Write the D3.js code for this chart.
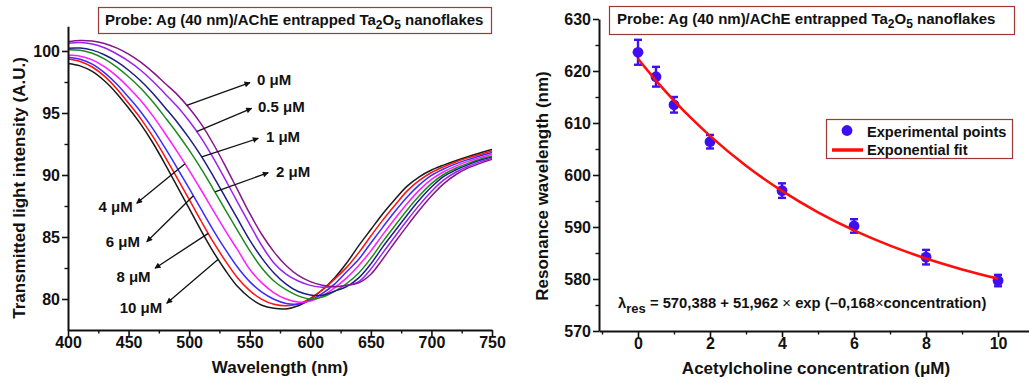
<!DOCTYPE html>
<html><head><meta charset="utf-8">
<script src="https://cdn.jsdelivr.net/npm/d3@7"></script>
<style>
body{margin:0;background:#fff}
text{font-family:"Liberation Sans",Arial,sans-serif;font-weight:bold;fill:#111}
</style>
</head><body>
<svg id="c" width="1029" height="383"></svg>
<script>
// ---------- data: left panel (transmission spectra) ----------
const wavelengths = [400,410,420,430,440,450,460,470,480,490,500,510,520,530,540,550,560,570,580,590,600,610,620,630,640,650,660,670,680,690,700,710,720,730,740,750];
const conc0   = [100.75,100.85,100.8,100.6,100.25,99.75,99.1,98.3,97.4,96.5,95.4,94.1,92.5,90.7,88.8,86.9,85.2,83.8,82.7,81.9,81.4,81.1,81.0,81.1,81.3,82.0,83.25,84.6,85.9,87.15,88.3,89.28,90.02,90.55,90.94,91.26];
const conc05  = [100.62,100.68,100.56,100.26,99.78,99.18,98.45,97.56,96.56,95.54,94.35,92.98,91.37,89.61,87.79,86.02,84.3,82.9,82.0,81.45,81.1,80.95,80.98,81.1,81.4,82.42,83.74,85.06,86.35,87.57,88.67,89.58,90.22,90.68,91.06,91.35];
const conc1   = [100.23,100.24,100.07,99.7,99.16,98.45,97.6,96.59,95.45,94.28,92.97,91.52,89.89,88.18,86.46,84.75,83.3,82.1,81.2,80.6,80.33,80.31,80.63,81.0,81.7,82.83,84.22,85.5,86.78,87.98,89.03,89.87,90.4,90.82,91.18,91.44];
const conc2   = [100.1,100.06,99.82,99.37,98.72,97.92,97.0,95.91,94.67,93.39,92.0,90.49,88.85,87.17,85.52,83.9,82.5,81.45,80.75,80.25,80.0,80.16,80.62,81.25,82.1,83.28,84.65,85.93,87.18,88.32,89.3,90.04,90.54,90.94,91.27,91.53];
const conc4   = [99.67,99.58,99.28,98.74,97.99,97.05,96.0,94.77,93.37,91.91,90.38,88.77,87.11,85.49,83.96,82.4,81.3,80.5,80.0,79.76,79.83,80.25,80.9,81.7,82.7,83.88,85.21,86.49,87.7,88.78,89.64,90.26,90.72,91.1,91.4,91.68];
const conc6   = [99.5,99.34,98.94,98.26,97.36,96.27,95.1,93.74,92.2,90.58,88.92,87.22,85.54,83.98,82.56,81.4,80.55,79.98,79.64,79.6,79.88,80.45,81.2,82.2,83.2,84.52,85.82,87.08,88.23,89.2,89.97,90.48,90.9,91.24,91.53,91.82];
const conc8   = [99.36,99.16,98.71,97.97,96.98,95.79,94.55,93.11,91.49,89.77,88.03,86.27,84.58,83.06,81.7,80.68,79.97,79.57,79.45,79.6,80.05,80.73,81.6,82.55,83.74,85.08,86.38,87.58,88.72,89.56,90.2,90.66,91.05,91.38,91.66,91.95];
const conc10  = [99.0,98.8,98.35,97.6,96.6,95.4,94.1,92.6,90.9,89.1,87.3,85.5,83.8,82.3,81.0,80.1,79.5,79.25,79.2,79.45,80.0,80.75,81.7,82.9,84.3,85.6,86.9,88.05,89.1,89.85,90.4,90.8,91.15,91.47,91.77,92.05];
const curveNames = ["0 μM","0.5 μM","1 μM","2 μM","4 μM","6 μM","8 μM","10 μM"];
const leftXTicks = [400,450,500,550,600,650,700,750];
const leftYTicks = [80,85,90,95,100];

// ---------- data: right panel ----------
const concentrations = [0,0.5,1,2,4,6,8,10];
const resonance      = [623.6,618.9,613.5,606.4,597.0,590.2,584.2,579.7];
const resonanceErr   = [2.4,1.9,1.5,1.3,1.4,1.3,1.4,1.1];
const fitConc   = [0,0.5,1,1.5,2,3,4,5,6,7,8,9,10];
const fitValues = [622.35,618.16,614.32,610.78,607.52,601.78,596.93,592.82,589.35,586.42,583.94,581.85,580.07];
const rightXTicks = [0,2,4,6,8,10];
const rightYTicks = [570,580,590,600,610,620,630];

// ---------- styles / layout ----------
const seriesList = [conc0,conc05,conc1,conc2,conc4,conc6,conc8,conc10];
const colors = ["#86168a","#9a22f2","#1c1c86","#1e8a1e","#ff1cff","#3b2bff","#ff1010","#1a1a1a"];
// annotation layout in data coordinates: [arrow start wavelength, arrow end (λ, I), label (λ, I), anchor]
const annot = [
  [498.0, 550.2, 97.45, 556.0, 97.26, "start"],
  [506.2, 551.6, 95.38, 556.8, 95.08, "start"],
  [510.4, 557.1, 92.96, 563.4, 92.66, "start"],
  [521.3, 565.3, 90.19, 571.7, 89.84, "start"],
  [496.6, 456.7, 87.72, 453.4, 87.04, "end"],
  [503.5, 465.0, 84.62, 459.4, 84.22, "end"],
  [515.8, 471.8, 82.48, 468.2, 81.40, "end"],
  [524.0, 481.5, 79.65, 477.8, 78.85, "end"]
];

const svg = d3.select("#c");
const defs = svg.append("defs");
defs.append("marker").attr("id","ah").attr("viewBox","0 0 10 10").attr("refX",9).attr("refY",5)
  .attr("markerWidth",8).attr("markerHeight",6).attr("markerUnits","userSpaceOnUse").attr("orient","auto")
  .append("path").attr("d","M0,0L10,5L0,10Z").attr("fill","#111");

function styleAxis(g){
  g.select(".domain").attr("stroke","#111").attr("stroke-width",2);
  g.selectAll(".tick line").attr("stroke","#111").attr("stroke-width",1.6);
  g.selectAll(".tick text").style("font-size","16px").style("font-family","'Liberation Sans',Arial,sans-serif").style("font-weight","bold").attr("fill","#111");
}
function minor(g){ g.select(".domain").remove(); g.selectAll(".tick line").attr("stroke","#111").attr("stroke-width",1.4); }

// ---------- left panel ----------
const xL = d3.scaleLinear([400,750],[68,492]);
const yL = d3.scaleLinear([77.5,102],[330,26.2]);

const line = d3.line().x((d,i)=>xL(wavelengths[i])).y(d=>yL(d)).curve(d3.curveCatmullRom.alpha(0.5));
svg.append("g").selectAll("path").data(seriesList.slice().reverse()).join("path")
  .attr("d",d=>line(d)).attr("fill","none")
  .attr("stroke",(d,i)=>colors[colors.length-1-i]).attr("stroke-width",1.5);

svg.append("g").attr("transform","translate(0,330)")
  .call(d3.axisBottom(xL).tickValues(d3.range(425,751,50)).tickSize(3.5).tickFormat("")).call(minor);
svg.append("g").attr("transform","translate(68,0)")
  .call(d3.axisLeft(yL).tickValues([82.5,87.5,92.5,97.5]).tickSize(3.5).tickFormat("")).call(minor);
svg.append("g").attr("transform","translate(0,330)")
  .call(d3.axisBottom(xL).tickValues(leftXTicks).tickSize(6).tickSizeOuter(0).tickPadding(1)).call(styleAxis);
svg.append("g").attr("transform","translate(68,0)")
  .call(d3.axisLeft(yL).tickValues(leftYTicks).tickSize(6).tickSizeOuter(0).tickPadding(2)).call(styleAxis);

function interp(series,lam){
  const i = d3.bisectRight(wavelengths,lam)-1;
  const t = (lam-wavelengths[i])/(wavelengths[i+1]-wavelengths[i]);
  return series[i]+(series[i+1]-series[i])*t;
}
annot.forEach((a,k)=>{
  const y0 = interp(seriesList[k],a[0]);
  svg.append("line").attr("x1",xL(a[0])).attr("y1",yL(y0)).attr("x2",xL(a[1])).attr("y2",yL(a[2]))
    .attr("stroke","#111").attr("stroke-width",1.3).attr("marker-end","url(#ah)");
  svg.append("text").attr("x",xL(a[3])).attr("y",yL(a[4])).attr("text-anchor",a[5])
    .style("font-size","15px").text(curveNames[k]);
});

svg.append("text").attr("transform","translate(25,188) rotate(-90)").attr("text-anchor","middle")
  .style("font-size","17px").text("Transmitted light intensity (A.U.)");
svg.append("text").attr("x",280).attr("y",373).attr("text-anchor","middle")
  .style("font-size","17px").text("Wavelength (nm)");

function titleBox(x,y,w,h,tx,ty){
  svg.append("rect").attr("x",x).attr("y",y).attr("width",w).attr("height",h)
    .attr("fill","#fff").attr("stroke","#9c3a3a").attr("stroke-width",1.2);
  const t = svg.append("text").attr("x",tx).attr("y",ty).style("font-size","15px");
  t.append("tspan").text("Probe: Ag (40 nm)/AChE entrapped Ta");
  t.append("tspan").attr("dy",4).style("font-size","12px").text("2");
  t.append("tspan").attr("dy",-4).text("O");
  t.append("tspan").attr("dy",4).style("font-size","12px").text("5");
  t.append("tspan").attr("dy",-4).text(" nanoflakes");
}
titleBox(98.5,7.5,393,26,105,25);

// ---------- right panel ----------
const xR = d3.scaleLinear([-1.083,10.86],[599,1029]);
const yR = d3.scaleLinear([570,630],[331,19]);

svg.append("g").attr("transform","translate(0,331)")
  .call(d3.axisBottom(xR).tickValues([-1,1,3,5,7,9]).tickSize(3.5).tickFormat("")).call(minor);
svg.append("g").attr("transform","translate(599,0)")
  .call(d3.axisLeft(yR).tickValues([575,585,595,605,615,625]).tickSize(3.5).tickFormat("")).call(minor);
svg.append("g").attr("transform","translate(0,331)")
  .call(d3.axisBottom(xR).tickValues(rightXTicks).tickSize(6).tickSizeOuter(0).tickPadding(1)).call(styleAxis);
svg.append("g").attr("transform","translate(599,0)")
  .call(d3.axisLeft(yR).tickValues(rightYTicks).tickSize(6).tickSizeOuter(0).tickPadding(2)).call(styleAxis);

const ptColor = "#3f0ff2";
const fitLine = d3.line().x((d,i)=>xR(fitConc[i])).y(d=>yR(d)).curve(d3.curveMonotoneX);
const eb = svg.append("g");
concentrations.forEach((c,i)=>{
  const x = xR(c), y1 = yR(resonance[i]-resonanceErr[i]), y2 = yR(resonance[i]+resonanceErr[i]);
  eb.append("line").attr("x1",x).attr("x2",x).attr("y1",y1).attr("y2",y2).attr("stroke",ptColor).attr("stroke-width",2.4);
  [y1,y2].forEach(yy=>eb.append("line").attr("x1",x-4).attr("x2",x+4).attr("y1",yy).attr("y2",yy).attr("stroke",ptColor).attr("stroke-width",2.4));
});
svg.append("g").selectAll("circle").data(resonance).join("circle")
  .attr("cx",(d,i)=>xR(concentrations[i])).attr("cy",d=>yR(d)).attr("r",5.4).attr("fill",ptColor);
svg.append("path").attr("d",fitLine(fitValues)).attr("fill","none").attr("stroke","#ff0d0d").attr("stroke-width",2.6);

svg.append("text").attr("transform","translate(548,186) rotate(-90)").attr("text-anchor","middle")
  .style("font-size","17px").text("Resonance wavelength (nm)");
svg.append("text").attr("x",816).attr("y",374).attr("text-anchor","middle")
  .style("font-size","17px").text("Acetylcholine concentration (μM)");

titleBox(609.5,6.5,405,28,617,24);

// legend
svg.append("rect").attr("x",826.5).attr("y",119.5).attr("width",186).attr("height",39)
  .attr("fill","#fff").attr("stroke","#9c3a3a").attr("stroke-width",1.2);
svg.append("circle").attr("cx",847).attr("cy",130.5).attr("r",5.4).attr("fill",ptColor);
svg.append("line").attr("x1",832).attr("x2",863).attr("y1",150).attr("y2",150).attr("stroke","#ff0d0d").attr("stroke-width",3.5);
svg.append("text").attr("x",867).attr("y",136.5).style("font-size","14.6px").text("Experimental points");
svg.append("text").attr("x",867).attr("y",155).style("font-size","14.6px").text("Exponential fit");

// formula
const f = svg.append("text").attr("x",618).attr("y",308).style("font-size","14.8px");
f.append("tspan").text("λ");
f.append("tspan").attr("dy",5).style("font-size","13px").text("res");
f.append("tspan").attr("dy",-5).text(" = 570,388 + 51,962 ");
f.append("tspan").style("font-weight","normal").text("×");
f.append("tspan").text(" exp (–0,168");
f.append("tspan").style("font-weight","normal").text("×");
f.append("tspan").text("concentration)");
</script>
</body></html>
